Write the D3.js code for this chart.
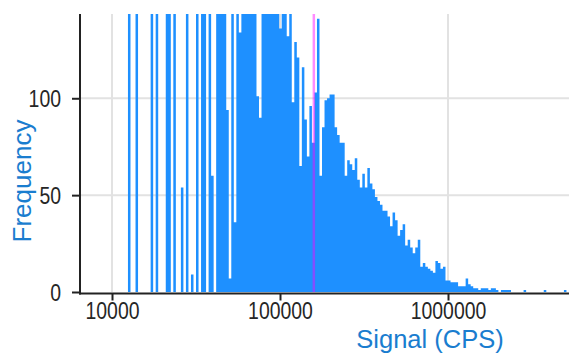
<!DOCTYPE html>
<html><head><meta charset="utf-8">
<script src="https://cdn.jsdelivr.net/npm/d3@7"></script>
<style>body{margin:0;background:#fff;overflow:hidden}</style>
</head><body>
<svg id="c" width="569" height="353"></svg>
<script>
// ---- data ----
const binStartLog = 3.81;      // log10 of first bin edge (CPS)
const binWidthLog = 0.015;     // bin width in decades
const counts = [
  0,0,0,0,0,0,0,0,0,0,
  0,0,0,0,0,0,0,0,0,160,
  0,0,160,0,0,0,0,0,160,0,
  160,0,0,0,160,160,0,160,0,0,
  54,0,160,0,9,0,160,0,160,160,
  0,160,60,0,160,160,160,160,94,7,
  160,36,160,134,160,160,160,160,160,160,
  101,90,160,160,160,160,160,160,160,136,
  160,160,132,160,98,129,121,65,116,89,
  70,96,77,103,141,60,85,99,100,102,
  102,85,81,77,77,60,68,66,63,69,
  58,54,61,54,64,56,53,49,47,45,
  42,42,39,34,41,37,29,32,35,24,
  27,23,20,23,27,13,15,13,12,11,
  10,16,15,12,13,6,6,5,5,5,
  3,3,3,7,4,3,2,2,1,2,
  2,2,1,2,2,1,0,1,1,1,
  1,0,0,0,0,0,1,0,0,0,
  0,0,0,0,1,0,0,0,0,0,
  0,0,1,0,1
];
const yTicks = [0, 50, 100];
const xTicks = [10000, 100000, 1000000];
const xGrid = [10000, 100000, 1000000];
const yGrid = [50, 100];
const markerSignal = 159000;
const xTitle = "Signal (CPS)";
const yTitle = "Frequency";

// ---- layout ----
const svg = d3.select("#c");
const L = 80, R = 569, T = 14, B = 292;
const x = d3.scaleLog().domain([Math.pow(10, 3.8095), Math.pow(10, 6.7202)]).range([L, R]);
const y = d3.scaleLinear().domain([0, 143.5]).range([B, T]);

svg.append("clipPath").attr("id", "clip").append("rect")
  .attr("x", L).attr("y", T).attr("width", R - L).attr("height", B - T + 1);

// grid
const grid = svg.append("g").attr("stroke", "#e2e2e2").attr("stroke-width", 2);
grid.selectAll("line.v").data(xGrid).join("line")
  .attr("x1", d => x(d)).attr("x2", d => x(d)).attr("y1", T).attr("y2", B);
grid.selectAll("line.h").data(yGrid).join("line")
  .attr("x1", L).attr("x2", R).attr("y1", d => y(d)).attr("y2", d => y(d));

// histogram as step area
const pts = counts.map((c, i) => ({e: Math.pow(10, binStartLog + i * binWidthLog), c}));
pts.push({e: Math.pow(10, binStartLog + counts.length * binWidthLog), c: 0});
const area = d3.area().curve(d3.curveStepAfter)
  .x(d => x(d.e)).y0(y(0)).y1(d => y(d.c));
svg.append("path").datum(pts).attr("clip-path", "url(#clip)")
  .attr("fill", "#1e90ff").attr("d", area);

// marker line
svg.append("line")
  .attr("x1", x(markerSignal)).attr("x2", x(markerSignal))
  .attr("y1", T).attr("y2", B)
  .attr("stroke", "#ff00ff").attr("stroke-opacity", 0.45).attr("stroke-width", 2.5);

// axes
const tickFont = "'Liberation Sans', Arial, sans-serif";
const digitW = 10.8;
const ya = svg.append("g").attr("transform", `translate(${L},0)`)
  .call(d3.axisLeft(y).tickValues(yTicks).tickSize(8).tickSizeOuter(0).tickPadding(11).tickFormat(d3.format("d")));
const xa = svg.append("g").attr("transform", `translate(0,${B + 1.5})`)
  .call(d3.axisBottom(x).tickValues(xTicks).tickSize(7).tickSizeOuter(0).tickFormat(d3.format("d")));
[ya, xa].forEach(g => {
  g.select(".domain").attr("stroke", "#222").attr("stroke-width", 2);
  g.selectAll(".tick line").attr("stroke", "#222").attr("stroke-width", 2);
  g.selectAll(".tick text").attr("fill", "#262626")
    .style("font-family", tickFont).style("font-size", "23.5px")
    .attr("textLength", function() { return this.textContent.length * digitW; })
    .attr("lengthAdjust", "spacingAndGlyphs");
});
ya.selectAll(".tick text").attr("dy", "0.34em");
xa.selectAll(".tick text").attr("y", 25.5).attr("dy", 0);
ya.select(".domain").attr("d", `M0,${T}V${B + 2.5}`);
xa.select(".domain").attr("d", `M${L - 1},0H${R + 5}`);

// titles
svg.append("text").attr("x", 430).attr("y", 347.5).attr("text-anchor", "middle")
  .attr("fill", "#1a7dcf").style("font-family", "'Liberation Sans', Arial, sans-serif")
  .style("font-size", "25.5px").text(xTitle);
svg.append("text").attr("transform", "translate(31,181) rotate(-90)").attr("text-anchor", "middle")
  .attr("fill", "#1a7dcf").style("font-family", "'Liberation Sans', Arial, sans-serif")
  .style("font-size", "26px").text(yTitle);
</script>
</body></html>
